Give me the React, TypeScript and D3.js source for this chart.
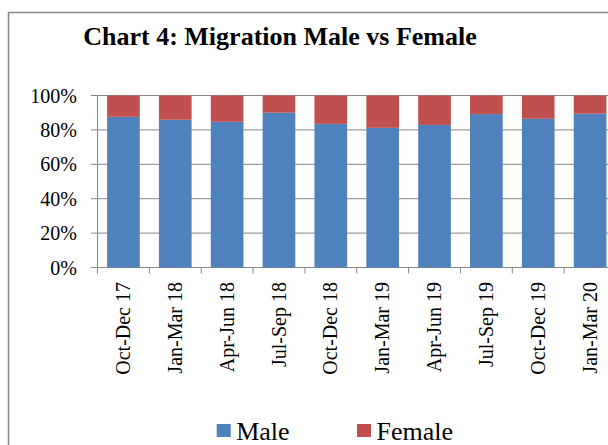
import React from "react";
import * as d3 from "d3";

const categories = [
  "Oct-Dec 17", "Jan-Mar 18", "Apr-Jun 18", "Jul-Sep 18", "Oct-Dec 18",
  "Jan-Mar 19", "Apr-Jun 19", "Jul-Sep 19", "Oct-Dec 19", "Jan-Mar 20",
];
const male = [87.6, 85.9, 84.7, 90.0, 83.5, 81.2, 82.9, 89.2, 86.5, 89.4];
const female = male.map((m) => 100 - m);
const yTicks = [0, 20, 40, 60, 80, 100];
const seriesNames = ["Male", "Female"];
const colors = ["#4f81bd", "#c0504d"];

const font = "Liberation Serif, Tinos, Times New Roman, DejaVu Serif, serif";

export default function App() {
  const W = 608, H = 445;
  const x0 = 97.5, step = 51.85;
  const x = d3.scaleBand<string>().domain(categories).range([x0, x0 + step * categories.length]).paddingInner(0.37).paddingOuter(0.185);
  const y = d3.scaleLinear().domain([0, 100]).range([267.5, 95.5]);
  const stack = d3.stack<any>().keys(["male", "female"])(
    categories.map((c, i) => ({ c, male: male[i], female: female[i] }))
  );
  const ts = { fontFamily: font } as React.CSSProperties;
  return (
    <svg width={W} height={H} style={{ position: "absolute", left: 0, top: 0, background: "#fff", fontFamily: font }}>
      <rect x={0} y={0} width={W} height={H} fill="#fff" />
      <path d={`M8.5,${H} V12.5 H${W}`} fill="none" stroke="#878787" strokeWidth={1.5} />
      <text x={280} y={44.5} textAnchor="middle" style={ts} fontWeight="bold" fontSize={26}>
        Chart 4: Migration Male vs Female
      </text>
      {yTicks.map((t) => (
        <g key={t}>
          <line x1={91} x2={W} y1={y(t)} y2={y(t)} stroke="#868686" strokeWidth={1} />
          <text x={77} y={y(t)} dy="0.35em" textAnchor="end" style={ts} fontSize={20}>{t}%</text>
        </g>
      ))}
      {stack.map((s, si) => (
        <g key={si} fill={colors[si]}>
          {s.map((d, i) => (
            <rect key={i} x={x(categories[i])} width={x.bandwidth()} y={y(d[1])} height={y(d[0]) - y(d[1])} />
          ))}
        </g>
      ))}
      <line x1={x0} x2={x0} y1={y(100)} y2={y(0)} stroke="#868686" strokeWidth={1} />
      {categories.map((c, i) => (
        <line key={c} x1={x0 + step * (i + 1)} x2={x0 + step * (i + 1)} y1={y(0)} y2={y(0) + 6} stroke="#868686" />
      ))}
      <line x1={x0} x2={x0} y1={y(0)} y2={y(0) + 6} stroke="#868686" />
      {categories.map((c) => (
        <text key={c} transform={`translate(${x(c)! + x.bandwidth() / 2},${282}) rotate(-90)`} dy="0.33em" textAnchor="end" style={ts} fontSize={20}>
          {c}
        </text>
      ))}
      {seriesNames.map((n, i) => (
        <g key={n} transform={`translate(${[216.7, 357][i]},0)`}>
          <rect x={0} y={424} width={14} height={13} fill={colors[i]} />
          <text x={19.5} y={440} style={ts} fontSize={26}>{n}</text>
        </g>
      ))}
    </svg>
  );
}
